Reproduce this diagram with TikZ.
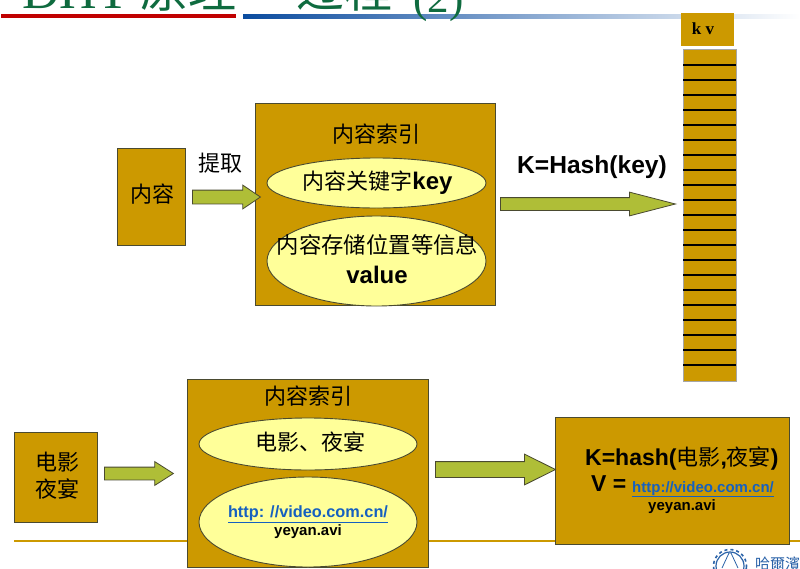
\documentclass[tikz,border=0pt]{standalone}
\usepackage{fontspec}
\setmainfont{Liberation Sans}
\newfontfamily\cjk{Noto Sans CJK SC}
\newfontfamily\serifl{Liberation Serif}
\usetikzlibrary{shapes.geometric,shapes.arrows}
\definecolor{gold}{HTML}{CC9900}
\definecolor{pale}{HTML}{FFFF99}
\definecolor{olive}{HTML}{AFBE37}
\definecolor{edgec}{HTML}{4A4A30}
\definecolor{linkc}{HTML}{1560C0}
\definecolor{titlec}{HTML}{0F6B3F}
\definecolor{blue1}{HTML}{0B4C9F}
\definecolor{red1}{HTML}{C00000}
\definecolor{logoc}{HTML}{2A62A8}
\newcommand{\fs}[1]{\fontsize{#1}{#1}\selectfont}
\newcommand{\lnk}[2]{{\fs{#1}\bfseries\color{linkc}\underline{#2}}}
\tikzset{x=1pt,y=-1pt,
  goldbox/.style={draw=edgec,line width=0.9pt,fill=gold,minimum width=0pt,inner sep=0pt,text=black,align=center},
  paleell/.style={ellipse,draw=edgec,line width=0.9pt,fill=pale,inner sep=0pt,text=black,align=center},
  % #1 length, #2 shaft, #3 head extend each side, #4 tip angle
  blockarrow/.style n args={4}{single arrow,draw=edgec,line width=0.8pt,fill=olive,inner sep=0pt,inner ysep=#2/2,
     minimum height=#1,single arrow head extend=#3,single arrow tip angle=#4,anchor=west},
  lbl/.style={inner sep=0pt,text=black,align=center},
  ttl/.style={inner sep=0pt,anchor=base west,text=titlec},
}
\newcommand{\boxat}[5]{\node[goldbox,anchor=north west,minimum width=#4-#2,minimum height=#5-#3] (#1) at (#2,#3) {};}
\begin{document}
\begin{tikzpicture}
\useasboundingbox (0,0) rectangle (800,568);
\begin{scope}
\clip (0,0) rectangle (800,568);
\fill[red1] (1,14) rectangle (236,18);
\shade[left color=blue1,right color=white] (243,14) rectangle (800,18);
\node[ttl] (title1) at (22,8) {\serifl\fs{52}DHT};
\node[ttl] (title2) at (140,7) {\cjk\fs{48}原理};
\node[ttl] (title3) at (296,7) {\cjk\fs{48}过程};
\node[ttl] (title4) at (413,12) {\serifl\fs{43}(2)};
\end{scope}
\draw[gold,line width=2pt] (14,540.5) -- (800,540.5);
% top row
\boxat{content}{117}{148}{185}{245}
\node[lbl] (contentl) at (152,194) {\cjk\fs{22}内容};
\node[lbl,anchor=center] (extract) at (220.5,163) {\cjk\fs{22}提取};
\boxat{index}{255}{103}{495}{305}
\node[blockarrow={68pt}{13pt}{5pt}{68}] (a1) at (192,197) {};
\node[lbl] (indext) at (376,134) {\cjk\fs{22}内容索引};
\node[paleell,minimum width=219pt,minimum height=50pt] (keyell) at (376.5,183) {};
\node[lbl] (keyl) at (377.5,183) {\cjk\fs{22}内容关键字{\normalfont\bfseries\fs{24}key}};
\node[paleell,minimum width=219pt,minimum height=90pt] (valell) at (376.5,261) {};
\node[lbl] (vall1) at (377.5,245) {\cjk\fs{22.4}内容存储位置等信息};
\node[lbl] (vall2) at (377,275) {\bfseries\fs{24}value};
\node[blockarrow={175pt}{12pt}{5.5pt}{29}] (a2) at (500,204) {};
\node[lbl] (hashl) at (592,167) {\bfseries\fs{24.6}K=Hash(key)};
% table
\node[goldbox,draw=none,anchor=north west,minimum width=53pt,minimum height=33pt] (kvbox) at (681,13) {};
\node[lbl] (kvl) at (703,29) {\serifl\bfseries\fs{17}k v};
\node[goldbox,draw=black!35,anchor=north west,minimum width=53pt,minimum height=332pt] (table) at (683,49) {};
\foreach \i in {1,...,21}{
  \draw[black,line width=2pt] (683,49.5+15*\i) -- (736,49.5+15*\i);
}
% bottom row
\boxat{movie}{14}{432}{97}{522}
\node[lbl] (moviel1) at (57,462) {\cjk\fs{22}电影};
\node[lbl] (moviel2) at (57,489) {\cjk\fs{22}夜宴};
\node[blockarrow={69pt}{12pt}{5.5pt}{65}] (a3) at (104,473.5) {};
\boxat{index2}{187}{379}{428}{567}
\node[lbl] (index2t) at (308,396) {\cjk\fs{22}内容索引};
\node[paleell,minimum width=218pt,minimum height=52pt] (ell3) at (308,444) {};
\node[lbl] (ell3l) at (310,442) {\cjk\fs{22}电影、夜宴};
\node[paleell,minimum width=218pt,minimum height=90pt] (ell4) at (308,522) {};
\node[lbl] (ell4a) at (308,514) {\lnk{16.3}{http: //video.com.cn/}};
\node[lbl] (ell4b) at (308,532) {\bfseries\fs{15}yeyan.avi};
\boxat{result}{555}{417}{789}{544}
\node[blockarrow={120pt}{15pt}{7.5pt}{53}] (a4) at (435,469.5) {};
\node[lbl,anchor=base west] (r1) at (585,465) {\bfseries\fs{23}K=hash({\cjk\mdseries\fs{22}电影},{\cjk\mdseries\fs{22}夜宴})};
\node[lbl,anchor=base west] (r2) at (591,491) {\bfseries\fs{23}V =};
\node[lbl,anchor=base west] (r3) at (632,492) {\lnk{15}{http://video.com.cn/}};
\node[lbl] (r4) at (682,507) {\bfseries\fs{15}yeyan.avi};
% logo
\begin{scope}
\clip (0,0) rectangle (800,568);
\draw[logoc,line width=1.2pt] (730,566) circle (14);
\draw[logoc,line width=1.6pt,dash pattern=on 3pt off 3pt] (730,566) circle (16.5);
\draw[logoc,line width=0.8pt] (722,568) -- (729,553) -- (731,553) -- (738,568);
\node[inner sep=0pt,anchor=base west,text=logoc] (logot) at (755,569) {\cjk\fs{15}哈爾濱};
\end{scope}
\end{tikzpicture}
\end{document}
